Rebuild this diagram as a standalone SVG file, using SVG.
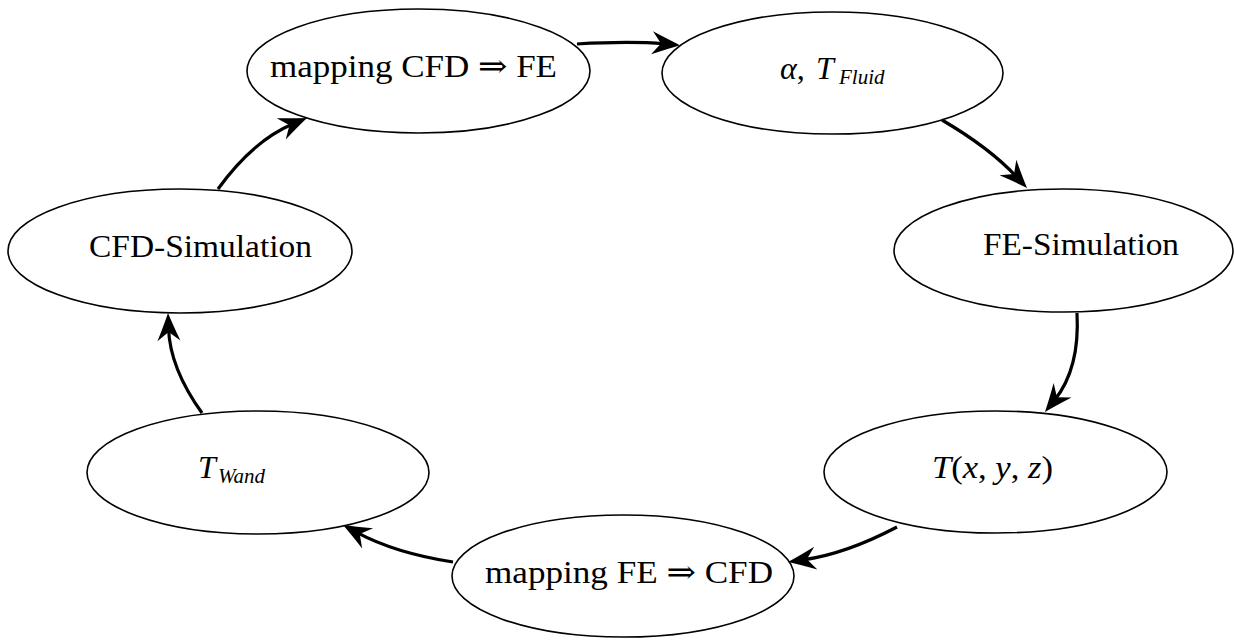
<svg xmlns="http://www.w3.org/2000/svg" width="1234" height="640" viewBox="0 0 1234 640">
<style>
.node ellipse{fill:#fff;stroke:#000;stroke-width:1.6}
.lbl{font-size:32px;fill:#000}
.it{font-style:italic}
.sub{font-size:21px;font-style:italic}
.edges path{fill:none;stroke:#000;stroke-width:3.2}
</style>
<defs>
<marker id="arr" markerUnits="userSpaceOnUse" markerWidth="32" markerHeight="24" refX="15" refY="12" orient="auto" overflow="visible">
<path d="M30,12 Q18,7.5 2,0.5 L11,12 L2,23.5 Q18,16.5 30,12 Z" fill="#000"/>
</marker>
</defs>
<rect width="1234" height="640" fill="#fff"/>
<g id="n1" class="node"><ellipse cx="418.5" cy="71" rx="171.5" ry="62"/><text class="lbl" font-family="Liberation Serif, DejaVu Serif, serif" x="270" y="77" textLength="287" lengthAdjust="spacingAndGlyphs">mapping CFD ⇒ FE</text></g>
<g id="n2" class="node"><ellipse cx="832.5" cy="73" rx="170.5" ry="61"/><text class="lbl" font-family="Liberation Serif, DejaVu Serif, serif" y="79"><tspan x="780" class="it">α</tspan><tspan>,</tspan><tspan x="816" class="it">T</tspan><tspan x="839" dy="5" class="sub">Fluid</tspan></text></g>
<g id="n3" class="node"><ellipse cx="1063.5" cy="250.5" rx="169.5" ry="61.5"/><text class="lbl" font-family="Liberation Serif, DejaVu Serif, serif" x="983" y="255" textLength="196" lengthAdjust="spacingAndGlyphs">FE-Simulation</text></g>
<g id="n4" class="node"><ellipse cx="995.5" cy="472" rx="171.5" ry="61"/><text class="lbl" font-family="Liberation Serif, DejaVu Serif, serif" x="932" y="478" textLength="121" lengthAdjust="spacingAndGlyphs"><tspan class="it">T</tspan>(<tspan class="it">x</tspan>, <tspan class="it">y</tspan>, <tspan class="it">z</tspan>)</text></g>
<g id="n5" class="node"><ellipse cx="623" cy="576" rx="171" ry="61"/><text class="lbl" font-family="Liberation Serif, DejaVu Serif, serif" x="485" y="583" textLength="288" lengthAdjust="spacingAndGlyphs">mapping FE ⇒ CFD</text></g>
<g id="n6" class="node"><ellipse cx="258" cy="472.5" rx="171" ry="61.5"/><text class="lbl" font-family="Liberation Serif, DejaVu Serif, serif" y="478"><tspan x="198" class="it">T</tspan><tspan x="218" dy="5" class="sub">Wand</tspan></text></g>
<g id="n7" class="node"><ellipse cx="180" cy="251" rx="172" ry="62"/><text class="lbl" font-family="Liberation Serif, DejaVu Serif, serif" x="89" y="257" textLength="223" lengthAdjust="spacingAndGlyphs">CFD-Simulation</text></g>
<g id="edges" class="edges">
<path d="M577,44 Q630,41 665,43.9" marker-end="url(#arr)"/>
<path d="M942,120 Q989.5,147.8 1016.8,177" marker-end="url(#arr)"/>
<path d="M1077,313 Q1080,368.7 1054.4,400.3" marker-end="url(#arr)"/>
<path d="M897,527 Q845.5,554 802.9,559.9" marker-end="url(#arr)"/>
<path d="M453,562 Q394.8,553 356.2,532.1" marker-end="url(#arr)"/>
<path d="M202,413 Q169.8,368.2 168.5,328" marker-end="url(#arr)"/>
<path d="M218,189 Q252.5,141 293.2,123.8" marker-end="url(#arr)"/>
</g>
</svg>
